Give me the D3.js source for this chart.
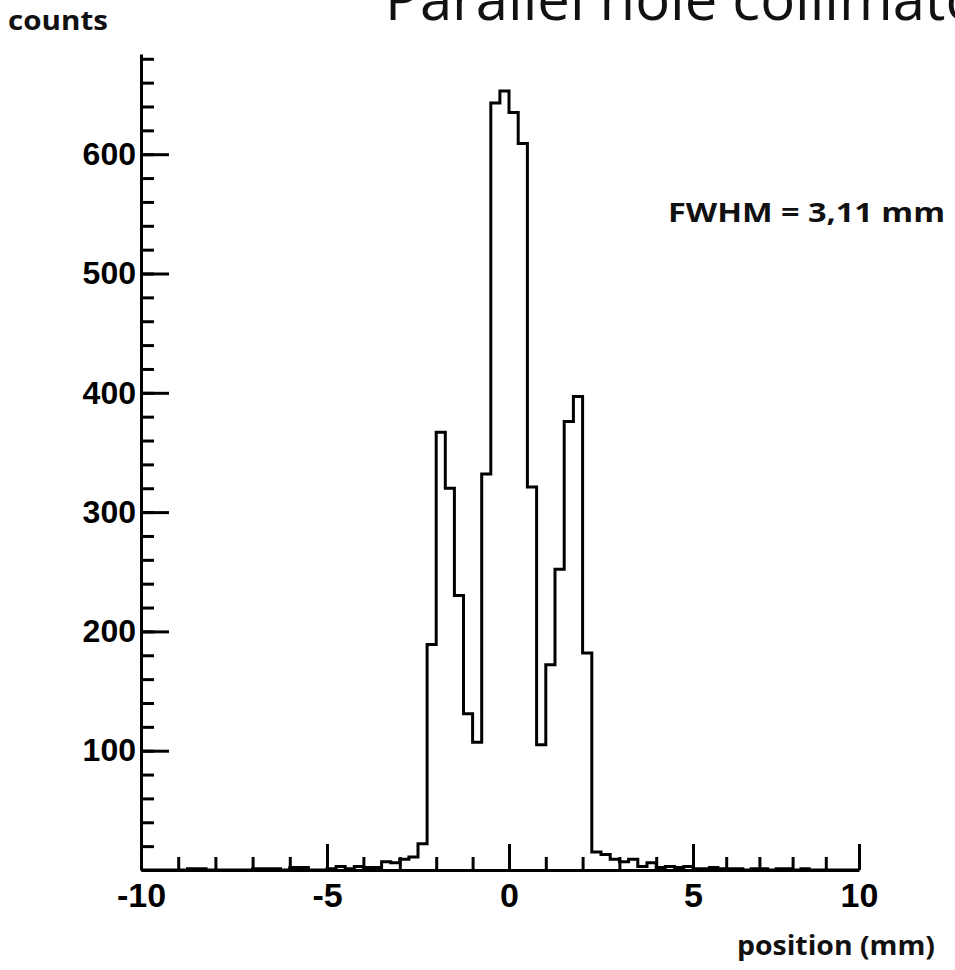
<!DOCTYPE html>
<html>
<head>
<meta charset="utf-8">
<script src="https://cdnjs.cloudflare.com/ajax/libs/d3/7.8.5/d3.min.js"></script>
<style>
  body { margin: 0; background: #fff; }
  svg { display: block; }
</style>
</head>
<body>
<div id="figure"></div>
<script>
// histogram: 80 bins of 0.25 mm from -10 to 10
const binStart = -10;
const binWidth = 0.25;
const counts = [
    0, 0, 0, 0,         // -10 .. -9
    0, 1, 1, 0,         // -9 .. -8
    0, 0, 0, 0,         // -8 .. -7
    1, 1, 1, 0,         // -7 .. -6
    2, 2, 0, 0,         // -6 .. -5
    1, 3, 1, 3,         // -5 .. -4
    2, 2, 7, 6,         // -4 .. -3
    9, 11, 22, 189,     // -3 .. -2
    367, 320, 230, 131, // -2 .. -1
    107, 332, 643, 653, // -1 .. 0
    635, 609, 321, 105, // 0 .. 1
    172, 252, 376, 397, // 1 .. 2
    182, 15, 13, 9,     // 2 .. 3
    7, 9, 3, 6,         // 3 .. 4
    2, 3, 2, 3,         // 4 .. 5
    1, 1, 2, 1,         // 5 .. 6
    1, 1, 0, 1,         // 6 .. 7
    1, 0, 1, 1,         // 7 .. 8
    0, 1, 0, 0,         // 8 .. 9
    0, 0, 0, 0          // 9 .. 10
];
const xMajorTicks = [-10, -5, 0, 5, 10];
const xMinorTicks = d3.range(-10, 11, 1);
const yMajorTicks = [100, 200, 300, 400, 500, 600];
const yMinorTicks = d3.range(20, 700, 20);

const titleText = 'Parallel hole collimator';
const yTitle = 'counts';
const xTitle = 'position (mm)';
const note = 'FWHM = 3,11 mm';

const width = 955, height = 970;

let svg = d3.select('#figure').append('svg')
    .attr('width', width)
    .attr('height', height);
svg.append('rect').attr('width', width).attr('height', height).attr('fill', '#fff');

// the scanned plot is slightly uneven, so the x scale is piecewise
let xScale = d3.scaleLinear()
    .domain([-10, -5, 0, 5, 10])
    .range([141, 327, 509, 693, 859]);
let yScale = d3.scaleLinear()
    .domain([0, 684])
    .range([870, 54]);

// histogram outline
let pts = [];
counts.forEach(function (v, i) {
    let x0 = binStart + i * binWidth;
    pts.push([x0, v]);
    pts.push([x0 + binWidth, v]);
});
let line = d3.line()
    .x(function (d) { return xScale(d[0]); })
    .y(function (d) { return yScale(d[1]); });
svg.append('path')
    .attr('d', line(pts))
    .attr('fill', 'none')
    .attr('stroke', '#000')
    .attr('stroke-width', 3)
    .attr('stroke-linejoin', 'miter');

// y axis
let yMinor = d3.axisLeft(yScale).tickValues(yMinorTicks).tickSize(-13).tickFormat('');
let yMajor = d3.axisLeft(yScale).tickValues(yMajorTicks).tickSize(-28).tickSizeOuter(0).tickPadding(5);
svg.append('g').attr('transform', 'translate(141,0)').call(yMinor)
    .call(function (g) { g.select('.domain').remove(); });
let yAxisG = svg.append('g').attr('transform', 'translate(141,0)').call(yMajor);

// x axis (plain hyphen for negatives, like the original)
let xMinor = d3.axisBottom(xScale).tickValues(xMinorTicks).tickSize(-13).tickFormat('');
let xMajor = d3.axisBottom(xScale).tickValues(xMajorTicks).tickSize(-26).tickSizeOuter(0).tickPadding(13)
    .tickFormat(function (d) { return String(d); });
svg.append('g').attr('transform', 'translate(0,870)').call(xMinor)
    .call(function (g) { g.select('.domain').remove(); });
let xAxisG = svg.append('g').attr('transform', 'translate(0,870)').call(xMajor);

svg.selectAll('.tick line').attr('stroke', '#000').attr('stroke-width', 3);
svg.selectAll('.domain').attr('stroke', '#000').attr('stroke-width', 3);

yAxisG.selectAll('text')
    .style('font-family', '"Liberation Sans", Arial, sans-serif')
    .style('font-weight', 'bold')
    .style('font-size', '32px')
    .attr('fill', '#000');
xAxisG.selectAll('text')
    .style('font-family', '"Liberation Sans", Arial, sans-serif')
    .style('font-weight', 'bold')
    .style('font-size', '34px')
    .attr('fill', '#000');

// titles (the big title is cut by the top edge in the original)
svg.append('text')
    .attr('x', 385).attr('y', 20)
    .style('font-family', '"Open Sans", sans-serif')
    .style('font-size', '58px')
    .attr('fill', '#111')
    .text(titleText);

svg.append('text')
    .attr('x', 8).attr('y', 30)
    .attr('textLength', 100).attr('lengthAdjust', 'spacingAndGlyphs')
    .style('font-family', '"Open Sans", sans-serif')
    .style('font-weight', 'bold')
    .style('font-size', '27px')
    .attr('fill', '#111')
    .text(yTitle);

svg.append('text')
    .attr('x', 737).attr('y', 955)
    .attr('textLength', 198).attr('lengthAdjust', 'spacingAndGlyphs')
    .style('font-family', '"Open Sans", sans-serif')
    .style('font-weight', 'bold')
    .style('font-size', '26px')
    .attr('fill', '#111')
    .text(xTitle);

svg.append('text')
    .attr('x', 668).attr('y', 222)
    .attr('textLength', 277).attr('lengthAdjust', 'spacingAndGlyphs')
    .style('font-family', '"Open Sans", sans-serif')
    .style('font-weight', 'bold')
    .style('font-size', '26px')
    .attr('fill', '#111')
    .text(note);
</script>
</body>
</html>
